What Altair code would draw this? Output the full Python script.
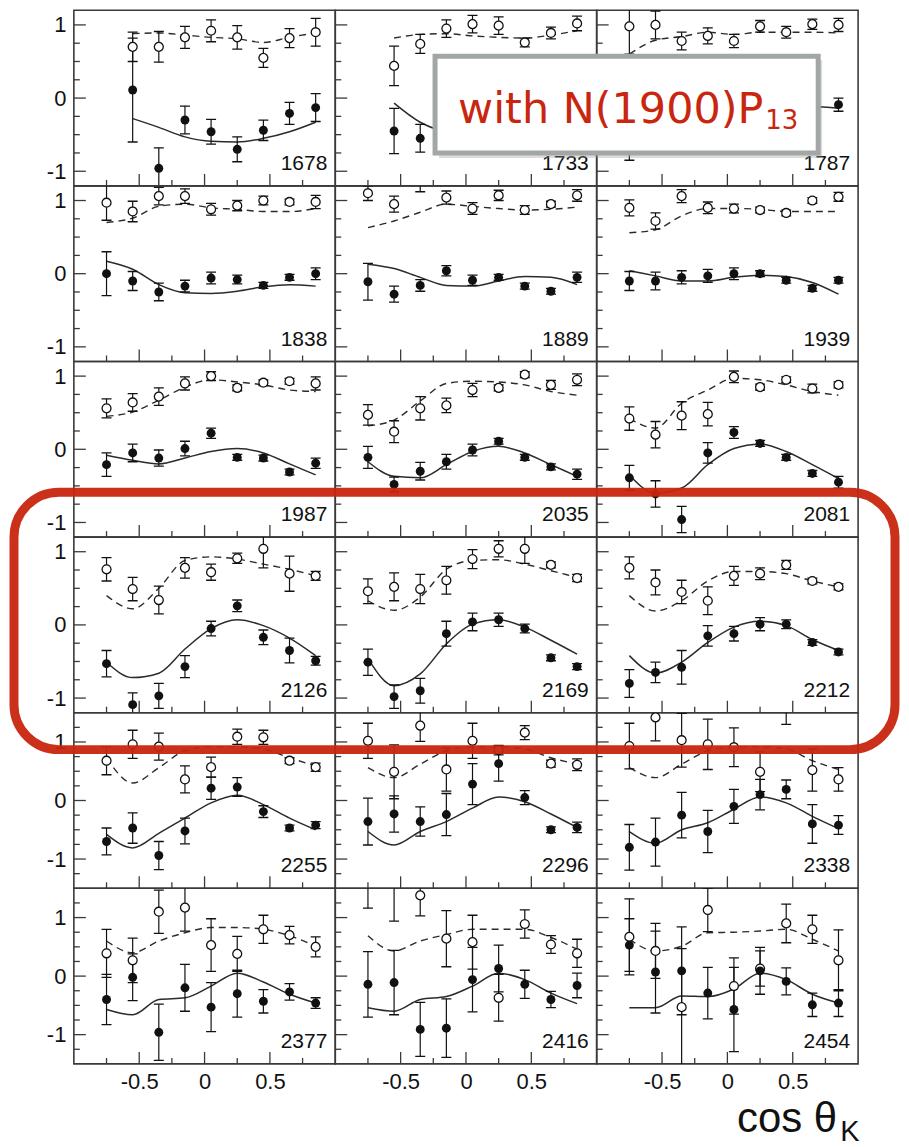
import altair as alt
import pandas as pd

# ---------------- data ----------------
COS = [-0.75, -0.55, -0.35, -0.15, 0.05, 0.25, 0.45, 0.65, 0.85]
ENERGY = ["1678", "1733", "1787", "1838", "1889", "1939", "1987", "2035", "2081",
          "2126", "2169", "2212", "2255", "2296", "2338", "2377", "2416", "2454"]
N = None

OPEN = [
    [N, 0.70, 0.70, 0.83, 0.92, 0.83, 0.55, 0.82, 0.90],      # 1678
    [N, 0.44, 0.74, 0.95, 1.01, 0.99, 0.76, 0.89, 1.02],      # 1733
    [0.98, 1.00, 0.78, 0.85, 0.78, 0.98, 0.90, 1.01, 1.00],   # 1787
    [0.97, 0.85, 1.06, 1.06, 0.88, 0.93, 1.00, 0.98, 0.98],   # 1838
    [1.10, 0.95, 1.28, 1.04, 0.89, 1.07, 0.87, 0.95, 1.07],   # 1889
    [0.90, 0.72, 1.06, 0.90, 0.89, 0.87, 0.83, 1.00, 1.05],   # 1939
    [0.56, 0.64, 0.72, 0.90, 1.00, 0.84, 0.91, 0.93, 0.90],   # 1987
    [0.47, 0.24, 0.56, 0.60, 0.81, 0.84, 1.02, 0.88, 0.95],   # 2035
    [0.42, 0.20, 0.46, 0.48, 0.99, 0.85, 0.95, 0.83, 0.88],   # 2081
    [0.76, 0.49, 0.34, 0.78, 0.72, 0.91, 1.04, 0.70, 0.67],   # 2126
    [0.46, 0.52, 0.49, 0.61, 0.90, 1.04, 1.04, 0.82, 0.64],   # 2169
    [0.78, 0.58, 0.45, 0.33, 0.67, 0.70, 0.82, 0.60, 0.52],   # 2212
    [0.68, 0.96, 0.92, 0.36, 0.57, 1.09, 1.08, 0.68, 0.57],   # 2255
    [1.02, 0.49, 1.28, 0.53, 1.02, 0.86, 1.16, 0.63, 0.61],   # 2296
    [0.93, 1.42, 1.03, 0.96, 0.91, 0.49, 1.65, 0.52, 0.36],   # 2338
    [0.39, 0.27, 1.10, 1.17, 0.53, 0.38, 0.80, 0.70, 0.50],   # 2377
    [1.70, 1.60, 1.38, 0.64, 0.58, -0.37, 0.89, 0.54, 0.39],  # 2416
    [0.67, 0.43, -0.53, 1.13, -0.17, 0.13, 0.90, 0.80, 0.27], # 2454
]
OPEN_ERR = [
    [N, 0.20, 0.21, 0.15, 0.15, 0.16, 0.13, 0.13, 0.19],
    [N, 0.27, 0.13, 0.12, 0.12, 0.12, 0.06, 0.08, 0.10],
    [0.38, 0.19, 0.12, 0.11, 0.09, 0.08, 0.08, 0.07, 0.09],
    [0.24, 0.14, 0.12, 0.10, 0.08, 0.07, 0.06, 0.04, 0.09],
    [0.10, 0.11, 0.16, 0.09, 0.08, 0.07, 0.06, 0.04, 0.08],
    [0.11, 0.11, 0.09, 0.08, 0.06, 0.04, 0.04, 0.04, 0.06],
    [0.13, 0.12, 0.12, 0.09, 0.06, 0.04, 0.04, 0.04, 0.09],
    [0.14, 0.15, 0.16, 0.10, 0.09, 0.04, 0.04, 0.06, 0.08],
    [0.16, 0.18, 0.19, 0.16, 0.08, 0.04, 0.04, 0.06, 0.04],
    [0.16, 0.16, 0.19, 0.14, 0.11, 0.07, 0.26, 0.24, 0.06],
    [0.17, 0.19, 0.20, 0.19, 0.13, 0.11, 0.20, 0.04, 0.05],
    [0.15, 0.17, 0.16, 0.19, 0.13, 0.08, 0.06, 0.04, 0.04],
    [0.24, 0.24, 0.23, 0.23, 0.17, 0.13, 0.12, 0.05, 0.07],
    [0.30, 0.46, 0.27, 0.37, 0.30, 0.08, 0.12, 0.06, 0.10],
    [0.39, 0.40, 0.46, 0.43, 0.33, 0.34, 0.35, 0.36, 0.20],
    [0.41, 0.38, 0.37, 0.40, 0.45, 0.30, 0.24, 0.15, 0.17],
    [0.54, 0.66, 0.35, 0.48, 0.46, 0.40, 0.24, 0.15, 0.24],
    [0.65, 0.47, 1.00, 0.37, 0.48, 0.30, 0.33, 0.24, 0.52],
]
FILLED = [
    [N, 0.11, -0.96, -0.30, -0.46, -0.70, -0.44, -0.21, -0.13],
    [N, -0.45, -0.55, -0.50, -0.35, -0.20, -0.15, -0.25, -0.30],
    [-0.15, -0.30, -0.35, -0.30, -0.25, -0.10, -0.15, -0.20, -0.09],
    [0.00, -0.10, -0.25, -0.17, -0.06, -0.08, -0.16, -0.05, 0.00],
    [-0.11, -0.28, -0.16, 0.04, -0.09, -0.05, -0.17, -0.24, -0.05],
    [-0.10, -0.10, -0.05, -0.03, 0.00, 0.00, -0.09, -0.20, -0.09],
    [-0.21, -0.05, -0.12, 0.01, 0.22, -0.11, -0.12, -0.31, -0.19],
    [-0.11, -0.48, -0.30, -0.17, -0.01, 0.11, -0.11, -0.24, -0.34],
    [-0.39, -0.61, -0.96, -0.05, 0.23, 0.08, -0.11, -0.33, -0.45],
    [-0.53, -1.09, -0.97, -0.57, -0.05, 0.26, -0.17, -0.35, -0.49],
    [-0.51, -0.98, -0.90, -0.12, 0.04, 0.07, -0.05, -0.45, -0.57],
    [-0.80, -0.65, -0.58, -0.15, -0.12, 0.01, 0.01, -0.24, -0.37],
    [-0.70, -0.47, -0.94, -0.52, 0.21, 0.23, -0.19, -0.47, -0.42],
    [-0.36, -0.23, -0.36, -0.24, 0.28, 0.63, 0.05, -0.50, -0.46],
    [-0.80, -0.71, -0.25, -0.53, -0.10, 0.10, 0.19, -0.40, -0.42],
    [-0.40, -0.02, -0.96, -0.20, -0.53, -0.30, -0.43, -0.27, -0.46],
    [-0.14, -0.11, -0.91, -0.89, -0.06, 0.13, -0.14, -0.40, -0.16],
    [0.53, 0.07, 0.09, -0.29, -0.57, 0.09, -0.09, -0.49, -0.46],
]
FILLED_ERR = [
    [N, 0.71, 0.28, 0.19, 0.17, 0.17, 0.14, 0.15, 0.19],
    [N, 0.31, 0.19, 0.15, 0.12, 0.10, 0.08, 0.08, 0.08],
    [0.70, 0.30, 0.15, 0.12, 0.10, 0.08, 0.08, 0.08, 0.09],
    [0.30, 0.13, 0.12, 0.08, 0.08, 0.06, 0.04, 0.04, 0.08],
    [0.25, 0.11, 0.08, 0.07, 0.07, 0.04, 0.04, 0.04, 0.07],
    [0.13, 0.12, 0.09, 0.09, 0.08, 0.04, 0.04, 0.04, 0.04],
    [0.16, 0.12, 0.11, 0.10, 0.07, 0.04, 0.04, 0.04, 0.07],
    [0.15, 0.10, 0.12, 0.10, 0.08, 0.04, 0.04, 0.04, 0.07],
    [0.17, 0.18, 0.18, 0.14, 0.08, 0.04, 0.04, 0.04, 0.08],
    [0.18, 0.16, 0.17, 0.15, 0.10, 0.08, 0.10, 0.17, 0.06],
    [0.18, 0.16, 0.17, 0.17, 0.12, 0.09, 0.06, 0.04, 0.04],
    [0.19, 0.14, 0.23, 0.14, 0.10, 0.09, 0.06, 0.04, 0.04],
    [0.23, 0.26, 0.24, 0.22, 0.19, 0.16, 0.10, 0.05, 0.06],
    [0.40, 0.31, 0.25, 0.36, 0.35, 0.30, 0.12, 0.05, 0.09],
    [0.39, 0.41, 0.39, 0.36, 0.29, 0.26, 0.16, 0.33, 0.16],
    [0.43, 0.40, 0.48, 0.40, 0.42, 0.40, 0.20, 0.14, 0.09],
    [0.56, 0.55, 0.46, 0.50, 0.55, 0.40, 0.24, 0.14, 0.21],
    [0.45, 0.70, 0.75, 0.44, 0.72, 0.40, 0.23, 0.20, 0.23],
]
DASHED = [
    [N, 0.88, 0.89, 0.86, 0.83, 0.81, 0.76, 0.83, 0.89],
    [N, 0.82, 0.87, 0.88, 0.85, 0.83, 0.82, 0.86, 0.92],
    [0.60, 0.79, 0.84, 0.90, 0.87, 0.90, 0.90, 0.90, 0.89],
    [0.70, 0.76, 0.92, 0.95, 0.90, 0.88, 0.85, 0.85, 0.89],
    [0.63, 0.72, 0.84, 0.95, 0.92, 0.89, 0.87, 0.88, 0.91],
    [0.56, 0.60, 0.79, 0.89, 0.89, 0.88, 0.85, 0.85, 0.85],
    [0.45, 0.51, 0.67, 0.85, 0.95, 0.92, 0.88, 0.81, 0.79],
    [0.32, 0.40, 0.66, 0.90, 0.93, 0.92, 0.88, 0.79, 0.74],
    [0.42, 0.29, 0.63, 0.81, 0.97, 0.95, 0.88, 0.79, 0.74],
    [0.40, 0.22, 0.50, 0.88, 0.93, 0.90, 0.83, 0.76, 0.67],
    [0.33, 0.20, 0.38, 0.76, 0.88, 0.89, 0.83, 0.74, 0.65],
    [0.40, 0.19, 0.33, 0.60, 0.73, 0.73, 0.70, 0.60, 0.52],
    [0.73, 0.30, 0.56, 0.85, 0.92, 0.92, 0.88, 0.73, 0.59],
    [0.56, 0.39, 0.62, 0.85, 0.92, 0.92, 0.88, 0.73, 0.62],
    [0.56, 0.39, 0.62, 0.85, 0.92, 0.92, 0.88, 0.68, 0.53],
    [0.60, 0.40, 0.60, 0.74, 0.83, 0.83, 0.80, 0.69, 0.51],
    [0.69, 0.43, 0.60, 0.71, 0.80, 0.80, 0.80, 0.66, 0.46],
    [0.63, 0.43, 0.51, 0.74, 0.75, 0.77, 0.80, 0.63, 0.43],
]
SOLID = [
    [N, -0.28, -0.40, -0.53, -0.59, -0.60, -0.55, -0.46, -0.33],
    [N, -0.07, -0.33, -0.45, -0.45, -0.35, -0.25, -0.20, -0.25],
    [-0.30, -0.35, -0.30, -0.25, -0.20, -0.15, -0.12, -0.12, -0.14],
    [0.17, 0.06, -0.15, -0.26, -0.27, -0.24, -0.18, -0.15, -0.17],
    [0.13, 0.07, -0.05, -0.16, -0.17, -0.10, -0.04, -0.05, -0.15],
    [0.04, -0.03, -0.10, -0.10, -0.05, -0.02, -0.04, -0.12, -0.28],
    [-0.08, -0.15, -0.20, -0.12, -0.03, 0.01, -0.05, -0.20, -0.35],
    [-0.17, -0.37, -0.39, -0.21, -0.03, 0.04, -0.05, -0.21, -0.37],
    [-0.35, -0.60, -0.53, -0.21, 0.01, 0.07, -0.03, -0.21, -0.40],
    [-0.51, -0.72, -0.66, -0.33, -0.05, 0.07, -0.01, -0.18, -0.42],
    [-0.46, -0.83, -0.67, -0.26, 0.01, 0.07, -0.03, -0.21, -0.40],
    [-0.42, -0.66, -0.51, -0.24, -0.03, 0.05, -0.01, -0.20, -0.35],
    [-0.58, -0.81, -0.56, -0.30, -0.04, 0.09, -0.07, -0.30, -0.50],
    [-0.53, -0.76, -0.53, -0.36, -0.13, 0.06, -0.02, -0.23, -0.46],
    [-0.53, -0.73, -0.50, -0.38, -0.15, 0.06, -0.04, -0.27, -0.48],
    [-0.57, -0.66, -0.40, -0.37, -0.17, 0.05, -0.10, -0.31, -0.46],
    [-0.54, -0.60, -0.40, -0.35, -0.17, 0.05, -0.06, -0.29, -0.47],
    [-0.54, -0.54, -0.34, -0.35, -0.22, 0.05, -0.06, -0.31, -0.46],
]

ROW_LIMIT = [1.2, 1.2, 1.2, 1.2, 1.5, 1.5]
X_LABELS = [-0.5, 0, 0.5]
X_MINOR = [-0.75, -0.25, 0.25, 0.75]
Y_LABELS = [-1, 0, 1]
Y_MINOR_SMALL = [-0.75, -0.5, -0.25, 0.25, 0.5, 0.75]
Y_MINOR_LARGE = [-1.25, -0.75, -0.5, -0.25, 0.25, 0.5, 0.75, 1.25]

NOTE_MAIN = "with N(1900)P"
NOTE_SUB = "13"
XTITLE_MAIN = "cos \u03b8"
XTITLE_SUB = "K"

# ---------------- style ----------------
W, H = 262, 176
FRAME = "#3a3a3a"
INK = "#111111"
CURVE = "#2b2b2b"
RED = "#c8260e"
FONT = "Liberation Sans"


def panel(i):
    r, c = divmod(i, 3)
    lim = ROW_LIMIT[r]
    xs = alt.Scale(domain=[-1, 1], nice=False, zero=False)
    ys = alt.Scale(domain=[-lim, lim], nice=False, zero=False)
    xaxis = None
    if r == 5:
        xaxis = alt.Axis(values=X_LABELS,
                         labelExpr="datum.value < 0 ? '-0.5' : (datum.value > 0 ? '0.5' : '0')",
                         ticks=False, domain=False, grid=False, title=None,
                         labelPadding=8, labelFontSize=22, labelFont=FONT, labelColor=INK)
    yaxis = None
    if c == 0:
        yaxis = alt.Axis(values=Y_LABELS,
                         labelExpr="datum.value > 0 ? '1' : (datum.value < 0 ? '-1' : '0')",
                         ticks=False, domain=False, grid=False, title=None,
                         labelPadding=8, labelFontSize=22, labelFont=FONT, labelColor=INK)

    df = pd.DataFrame({
        "cos": COS, "open": OPEN[i], "oerr": OPEN_ERR[i],
        "filled": FILLED[i], "ferr": FILLED_ERR[i],
        "dashed": DASHED[i], "solid": SOLID[i],
    }).astype(float)
    df["o_lo"] = df["open"] - df["oerr"]
    df["o_hi"] = df["open"] + df["oerr"]
    df["f_lo"] = df["filled"] - df["ferr"]
    df["f_hi"] = df["filled"] + df["ferr"]

    X = alt.X("cos:Q", scale=xs, axis=xaxis)

    def Y(f):
        return alt.Y(f + ":Q", scale=ys, axis=yaxis)

    def Y2(f):
        return alt.Y2(f + ":Q")

    od = df.dropna(subset=["open"])
    fd = df.dropna(subset=["filled"])
    dd = df.dropna(subset=["dashed"])
    sd = df.dropna(subset=["solid"])

    layers = [
        alt.Chart(dd).mark_line(interpolate="monotone", color=CURVE, strokeWidth=1.4,
                                strokeDash=[7, 5], clip=True).encode(x=X, y=Y("dashed")),
        alt.Chart(sd).mark_line(interpolate="monotone", color=CURVE, strokeWidth=1.5,
                                clip=True).encode(x=X, y=Y("solid")),
    ]
    for d, lo, hi in ((od, "o_lo", "o_hi"), (fd, "f_lo", "f_hi")):
        layers.append(alt.Chart(d).mark_rule(color=INK, strokeWidth=1.2, clip=True)
                      .encode(x=X, y=Y(lo), y2=Y2(hi)))
        for end in (lo, hi):
            layers.append(alt.Chart(d).mark_tick(orient="horizontal", size=10, thickness=1.3,
                                                 color=INK, opacity=1, clip=True)
                          .encode(x=X, y=Y(end)))
    layers.append(alt.Chart(od).mark_point(shape="circle", filled=True, fill="white",
                                           stroke=INK, strokeWidth=1.3, size=80,
                                           opacity=1, clip=True).encode(x=X, y=Y("open")))
    layers.append(alt.Chart(fd).mark_point(shape="circle", filled=True, color=INK,
                                           size=80, opacity=1, clip=True)
                  .encode(x=X, y=Y("filled")))

    # inward ticks
    minor_y = Y_MINOR_SMALL if lim < 1.4 else Y_MINOR_LARGE
    layers.append(alt.Chart(pd.DataFrame({"v": Y_LABELS})).mark_rule(color=FRAME, strokeWidth=1.3)
                  .encode(y=alt.Y("v:Q", scale=ys, axis=yaxis), x=alt.value(0), x2=alt.value(12)))
    layers.append(alt.Chart(pd.DataFrame({"v": minor_y})).mark_rule(color=FRAME, strokeWidth=1.3)
                  .encode(y=alt.Y("v:Q", scale=ys, axis=yaxis), x=alt.value(0), x2=alt.value(6)))
    layers.append(alt.Chart(pd.DataFrame({"v": X_LABELS})).mark_rule(color=FRAME, strokeWidth=1.3)
                  .encode(x=alt.X("v:Q", scale=xs, axis=xaxis), y=alt.value(H), y2=alt.value(H - 12)))
    layers.append(alt.Chart(pd.DataFrame({"v": X_MINOR})).mark_rule(color=FRAME, strokeWidth=1.3)
                  .encode(x=alt.X("v:Q", scale=xs, axis=xaxis), y=alt.value(H), y2=alt.value(H - 6)))

    # energy label
    layers.append(alt.Chart(pd.DataFrame({"e": [ENERGY[i]]}))
                  .mark_text(align="right", baseline="alphabetic", font=FONT, fontSize=21, color=INK)
                  .encode(x=alt.value(W - 8), y=alt.value(H - 16), text="e:N"))

    if i == 17:
        one = pd.DataFrame({"k": [0]})
        # red highlight frame around the 4th row
        layers.append(alt.Chart(one).mark_rect(filled=False, stroke=RED, strokeWidth=9,
                                               cornerRadius=45, opacity=0.95)
                      .encode(x=alt.value(-584), x2=alt.value(299),
                              y=alt.value(-397), y2=alt.value(-139)))
        # note box with shadow
        layers.append(alt.Chart(one).mark_rect(fill="#9a9a9a", opacity=0.35)
                      .encode(x=alt.value(-158), x2=alt.value(226),
                              y=alt.value(-830), y2=alt.value(-732)))
        layers.append(alt.Chart(one).mark_rect(fill="white", stroke="#a3a6a6", strokeWidth=5)
                      .encode(x=alt.value(-162), x2=alt.value(222),
                              y=alt.value(-834), y2=alt.value(-737)))
        layers.append(alt.Chart(pd.DataFrame({"t": [NOTE_MAIN]}))
                      .mark_text(align="right", baseline="alphabetic", font="DejaVu Sans",
                                 fontSize=43, color=RED)
                      .encode(x=alt.value(167), y=alt.value(-767), text="t:N"))
        layers.append(alt.Chart(pd.DataFrame({"t": [NOTE_SUB]}))
                      .mark_text(align="left", baseline="alphabetic", font="DejaVu Sans",
                                 fontSize=26, color=RED)
                      .encode(x=alt.value(169), y=alt.value(-761), text="t:N"))
        # x-axis title
        layers.append(alt.Chart(pd.DataFrame({"t": [XTITLE_MAIN]}))
                      .mark_text(align="right", baseline="alphabetic", font=FONT,
                                 fontSize=42, color=INK)
                      .encode(x=alt.value(241), y=alt.value(244), text="t:N"))
        layers.append(alt.Chart(pd.DataFrame({"t": [XTITLE_SUB]}))
                      .mark_text(align="left", baseline="alphabetic", font=FONT,
                                 fontSize=29, color=INK)
                      .encode(x=alt.value(244), y=alt.value(253), text="t:N"))

    return alt.layer(*layers).properties(width=W, height=H)


chart = (
    alt.concat(*[panel(i) for i in range(18)], columns=3, spacing=0, bounds="flush")
    .properties(padding={"left": 0, "top": 0, "right": 0, "bottom": 0})
    .configure_view(stroke=FRAME, strokeWidth=1.6)
)

chart.save("out.html", embed_options={"renderer": "svg", "actions": False})
